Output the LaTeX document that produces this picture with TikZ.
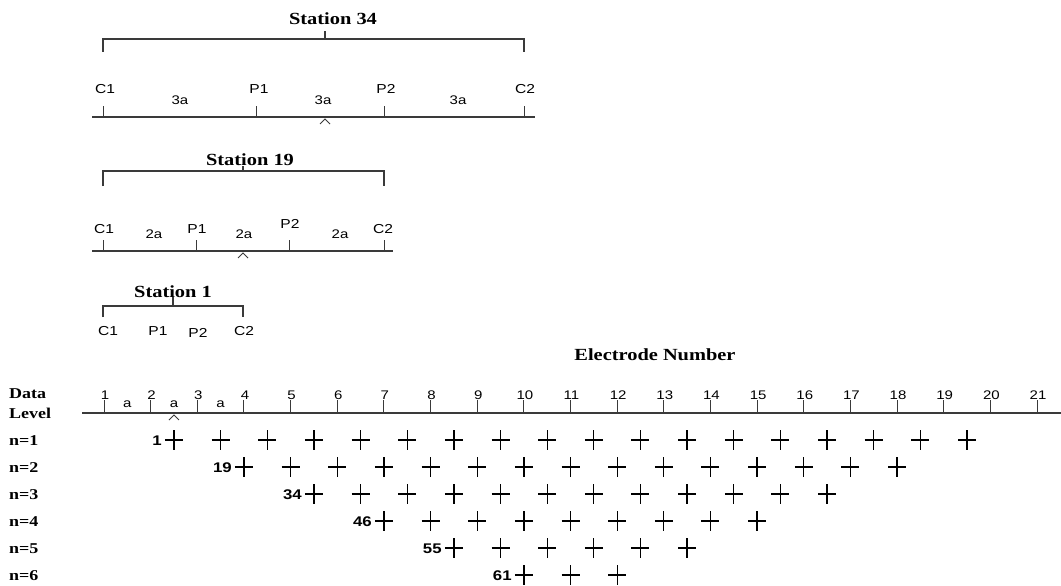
\documentclass[tikz,border=0pt]{standalone}
\usepackage{fontspec}
\setmainfont{Liberation Serif}
\newfontfamily\arialfont[FakeStretch=1.2]{Liberation Sans}
\newfontfamily\timesfont[FakeStretch=1.2]{Liberation Serif}
\usetikzlibrary{calc}
\definecolor{linegray}{HTML}{3A3A3A}
\tikzset{
  groundline/.style={draw=linegray,line width=1.3pt},
  tickline/.style={draw=linegray,line width=1pt},
  bracketline/.style={draw=linegray,line width=1.2pt},
  titletext/.style={font=\timesfont\bfseries\fontsize{17}{17}\selectfont,anchor=base,inner sep=0pt},
  elabel/.style={font=\arialfont\fontsize{13}{13}\selectfont,anchor=base,inner sep=0pt},
  spacing/.style={font=\arialfont\fontsize{12.5}{12.5}\selectfont,anchor=base,inner sep=0pt},
  rowlabel/.style={font=\timesfont\bfseries\fontsize{15}{15}\selectfont,anchor=base west,inner sep=0pt},
  stnum/.style={font=\arialfont\bfseries\fontsize{14}{14}\selectfont,anchor=base east,inner sep=0pt},
  midmark/.pic={\draw[linegray,line width=0.9pt] (-5,5) -- (0,0) -- (5,5);},
  datapt/.pic={\draw[black,line width=1.3pt] (-9,0) -- (9,0) (0,-10) -- (0,10);},
}
\begin{document}
\begin{tikzpicture}[x=1pt,y=-1pt]
  \useasboundingbox[fill=white] (0,0) rectangle (1061,586);

  % Station 34
  \node[titletext] (t34) at (333,25) {Station 34};
  \draw[bracketline] (103,52) -- (103,39) -- (524,39) -- (524,52);
  \draw[bracketline] (325,39) -- (325,31);
  \coordinate (s34c1) at (103,117);
  \coordinate (s34p1) at (256,117);
  \coordinate (s34p2) at (384,117);
  \coordinate (s34c2) at (524,117);
  \draw[groundline] (92,117) -- (535,117);
  \foreach \e in {c1,p1,p2,c2} \draw[tickline] (s34\e) -- ++(0,-11);
  \node[elabel] (l34c1) at (105,94) {C1};
  \node[elabel] (l34p1) at (259,94) {P1};
  \node[elabel] (l34p2) at (386,93) {P2};
  \node[elabel] (l34c2) at (525,94) {C2};
  \node[spacing] (d34a) at (180,105) {3a};
  \node[spacing] (d34b) at (323,105) {3a};
  \node[spacing] (d34c) at (458,104) {3a};
  \pic at (325,119) {midmark};

  % Station 19
  \node[titletext] (t19) at (250,165) {Station 19};
  \draw[bracketline] (103,186) -- (103,171) -- (384,171) -- (384,186);
  \draw[bracketline] (243,171) -- (243,166);
  \coordinate (s19c1) at (103,251);
  \coordinate (s19p1) at (196,251);
  \coordinate (s19p2) at (289,251);
  \coordinate (s19c2) at (384,251);
  \draw[groundline] (92,251) -- (393,251);
  \foreach \e in {c1,p1,p2,c2} \draw[tickline] (s19\e) -- ++(0,-11);
  \node[elabel] (l19c1) at (104,233) {C1};
  \node[elabel] (l19p1) at (197,233) {P1};
  \node[elabel] (l19p2) at (290,228) {P2};
  \node[elabel] (l19c2) at (383,233) {C2};
  \node[spacing] (d19a) at (154,238) {2a};
  \node[spacing] (d19b) at (244,238) {2a};
  \node[spacing] (d19c) at (340,238) {2a};
  \pic at (243,253) {midmark};

  % Station 1
  \node[titletext] (t1) at (173,297) {Station 1};
  \draw[bracketline] (103,317) -- (103,306) -- (243,306) -- (243,317);
  \draw[bracketline] (173,306) -- (173,297);
  \node[elabel] (l1c1) at (108,335) {C1};
  \node[elabel] (l1p1) at (158,335) {P1};
  \node[elabel] (l1p2) at (198,337) {P2};
  \node[elabel] (l1c2) at (244,335) {C2};

  % electrode axis
  \node[titletext] (axtitle) at (655,360) {Electrode Number};
  \node[rowlabel] (datalbl) at (9,398) {Data};
  \node[rowlabel] (levellbl) at (9,418) {Level};
  \draw[groundline] (82,413) -- (1061,413);
  \foreach \k in {1,...,21} {
    \coordinate (e\k) at ({104+(\k-1)*46.65},413);
    \draw[tickline] (e\k) -- ++(0,-13);
    \node[spacing] (en\k) at ($(e\k)+(1,-14)$) {\k};
  }
  \node[spacing] (ua) at ($(e1)!0.5!(e2)+(0,-6)$) {a};
  \node[spacing] (ub) at ($(e2)!0.5!(e3)+(0,-6)$) {a};
  \node[spacing] (uc) at ($(e3)!0.5!(e4)+(0,-6)$) {a};
  \pic at ($(e2)!0.5!(e3)+(0,2)$) {midmark};

  % pseudosection points
  \foreach \n/\first/\cnt/\id in {1/2.5/17/1,2/4/14/19,3/5.5/11/34,4/7/8/46,5/8.5/5/55,6/10/2/61}{
    \pgfmathsetmacro\rowy{440+(\n-1)*27}
    \node[rowlabel] (lvl\n) at (9,{\rowy+5}) {n=\n};
    \foreach \i in {0,...,\cnt} \pic at ({104+(\first+\i-1)*46.65},\rowy) {datapt};
    \node[stnum] (st\id) at ({104+(\first-1)*46.65-12},{\rowy+5}) {\id};
  }
\end{tikzpicture}
\end{document}
